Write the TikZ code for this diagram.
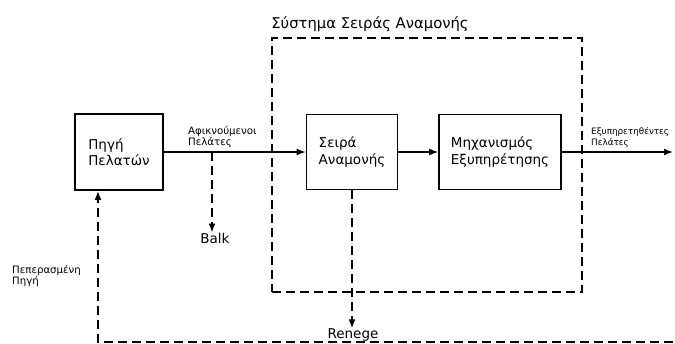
\documentclass[tikz,border=0pt]{standalone}
\usepackage{fontspec}
\setmainfont{DejaVu Sans}
\usetikzlibrary{arrows.meta,positioning}

\begin{document}
\begin{tikzpicture}[x=1pt,y=-1pt,
    block/.style={draw,line width=1.7pt,align=left,inner sep=0pt,font=\fontsize{13.5}{16.5}\selectfont},
    flow/.style={-{Latex[length=9pt,width=7pt]},line width=1.4pt},
    loss/.style={-{Latex[length=9pt,width=7pt]},line width=1.7pt,dash pattern=on 9pt off 5pt},
    sysbox/.style={draw,line width=1.7pt,dash pattern=on 9pt off 5pt},
    small/.style={align=left,inner sep=0pt,font=\fontsize{10.2}{11.5}\selectfont},
    tag/.style={inner sep=0pt,font=\fontsize{13.5}{15}\selectfont}]
       \useasboundingbox (0,0) rectangle (675,344);

       % boxes
       \node[block,minimum width=88pt,minimum height=76pt] (src) at (119,152) {Πηγή\\Πελατών};
       \node[block,minimum width=91pt,minimum height=75pt] (queue) at (352,152) {Σειρά\\Αναμονής};
       \node[block,minimum width=122pt,minimum height=75pt] (serv) at (500,152) {Μηχανισμός\\Εξυπηρέτησης};
       \node[sysbox,minimum width=310pt,minimum height=254pt] (sys) at (427,165) {};
       \node[tag,anchor=south west,font=\fontsize{14.8}{16}\selectfont] (systitle) at ([yshift=5pt]sys.north west) {Σύστημα Σειράς Αναμονής};

       % main flow
       \coordinate (out) at (673,152);
       \draw[flow] (src) -- (queue);
       \draw[flow] (queue) -- (serv);
       \draw[flow] (serv) -- (out);
       \node[small,anchor=south west] (arrive) at (188,148) {Αφικνούμενοι\\Πελάτες};
       \node[small,anchor=south west,font=\fontsize{8.8}{11}\selectfont] (served) at (591,148) {Εξυπηρετηθέντες\\Πελάτες};

       % losses
       \coordinate (balkstart) at (212,152);
       \node[tag] (balk) at (215,238) {Balk};
       \node[tag] (ren) at (353,335) {Renege};
       \draw[loss] (balkstart) -- (balkstart |- balk.north);
       \draw[loss] (queue.south) -- (queue.south |- ren.north);

       % finite source
       \coordinate (fbend) at (673,342);
       \coordinate (fbcorner) at (98,342);
       \draw[loss] (fbend) -- (fbcorner) -- (fbcorner |- src.south);
       \node[small,anchor=north west] (finite) at (12,265) {Πεπερασμένη\\Πηγή};
\end{tikzpicture}
\end{document}
